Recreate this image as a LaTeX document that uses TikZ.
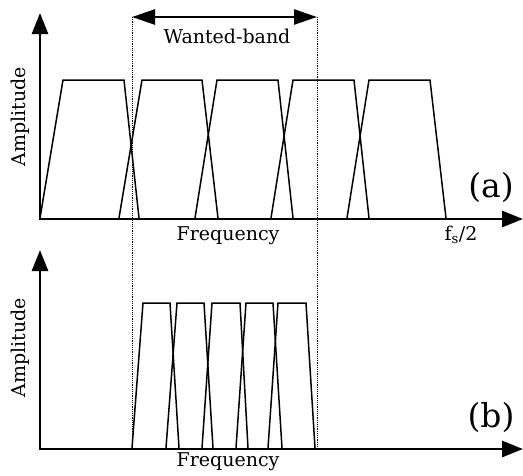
\documentclass[tikz,border=0pt]{standalone}
\usepackage{fontspec}
\setmainfont{DejaVu Serif}
\usetikzlibrary{arrows.meta}
\begin{document}
\begin{tikzpicture}[x=1pt,y=-1pt,
  axisline/.style={line width=2.8pt,-{Triangle[length=21pt,width=16pt]}},
  bandarrow/.style={line width=2.6pt,{Triangle[length=23pt,width=15pt]}-{Triangle[length=23pt,width=15pt]}},
  guide/.style={line width=0.9pt,dash pattern=on 1.1pt off 1.1pt},
  filt/.style={line width=1.5pt,line join=miter},
  lbl/.style={font=\fontsize{19}{22}\selectfont,inner sep=0pt},
  tag/.style={font=\fontsize{33}{36}\selectfont,inner sep=0pt}]
\useasboundingbox (0,0) rectangle (523,475);

% axes (a)
\coordinate (oa) at (40,219);
\coordinate (ya) at (40,13);
\coordinate (xa) at (523,219);
\draw[axisline] (oa) -- (ya);
\draw[axisline] ([xshift=-1.4pt]oa) -- (xa);

% axes (b)
\coordinate (ob) at (40,449);
\coordinate (yb) at (40,250);
\coordinate (xb) at (523,449);
\draw[axisline] (ob) -- (yb);
\draw[axisline] ([xshift=-1.4pt]ob) -- (xb);

% filters (a)
\foreach \a/\b/\c/\d in {40/63/124/139,119/142/202/218,195/217/278/293,271/293/354/369,347/369/430/446}
  \draw[filt] (\a,218) -- (\b,80) -- (\c,80) -- (\d,218);

% filters (b)
\foreach \a/\b/\c/\d in {132/143/170/179,166/177/204/213,202/212/240/248,236/246/273/282,268/278/306/315}
  \draw[filt] (\a,448) -- (\b,303) -- (\c,303) -- (\d,448);

% wanted band guides
\coordinate (wl) at (132,17);
\coordinate (wr) at (317,17);
\coordinate (wlb) at (132,449);
\coordinate (wrb) at (317,449);
\draw[guide] (wl) -- (wlb);
\draw[guide] (wr) -- (wrb);
\draw[bandarrow] (wl) -- (wr);

% labels
\node[lbl] (wb) at (227,36) {Wanted-band};
\node[lbl,rotate=90] (ampa) at (20,117) {Amplitude};
\node[lbl,rotate=90] (ampb) at (20,348) {Amplitude};
\node[lbl] (freqa) at (228,236) {Frequency};
\node[lbl] (freqb) at (228,462) {Frequency};
\node[lbl] (fs) at (461,235) {f\textsubscript{s}/2};
\node[tag] (ta) at (491,188) {(a)};
\node[tag] (tb) at (491,418) {(b)};
\end{tikzpicture}
\end{document}
